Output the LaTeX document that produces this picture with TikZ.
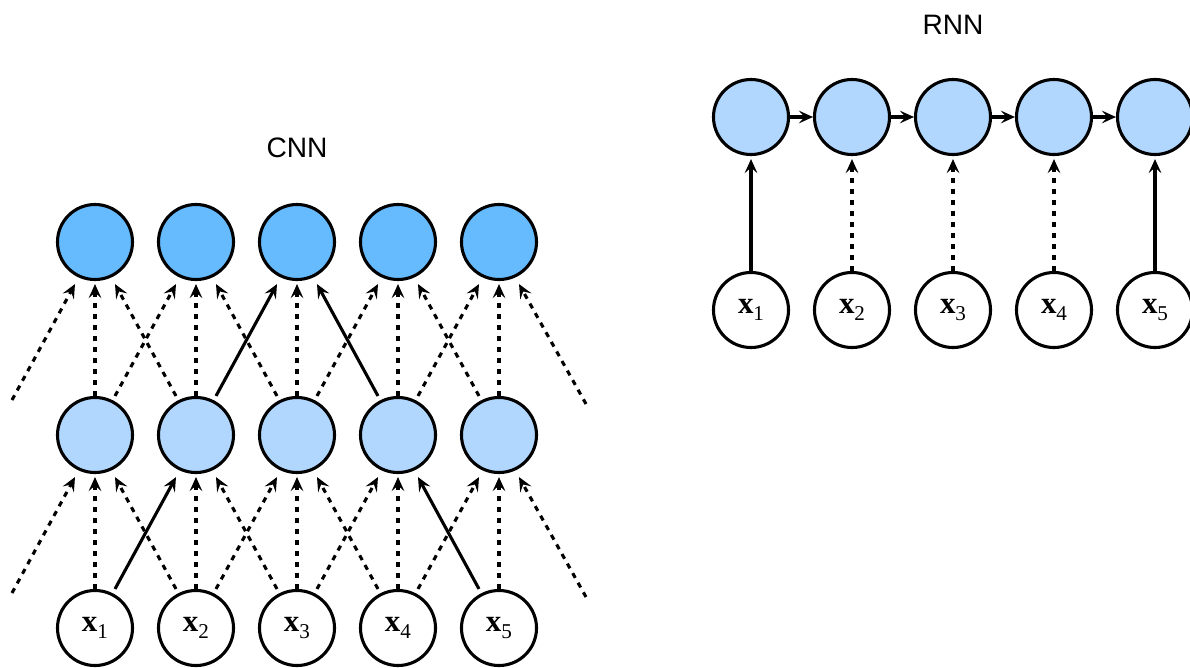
\documentclass[tikz,border=0pt]{standalone}
\usepackage{fontspec}
\setmainfont{Liberation Serif}
\newfontfamily\titlefont{Liberation Sans}
\usetikzlibrary{arrows.meta,calc}
\definecolor{convblue}{HTML}{66BBFF}
\definecolor{stateblue}{HTML}{B1D7FF}
% input token x_i
\newcommand{\xin}[1]{\textbf{x}\raisebox{-0.5ex}{\fontsize{15pt}{15pt}\selectfont #1}}
\begin{document}
\begin{tikzpicture}[x=0.025cm,y=-0.025cm,
                        unit/.style={circle,draw,line width=2.2pt,minimum size=1.875cm,inner sep=0pt,font=\fontsize{22pt}{22pt}\selectfont},
                        conv/.style={unit,fill=convblue},
                        state/.style={unit,fill=stateblue},
                        input/.style={unit,fill=white},
                        link/.style={line width=2.2pt,-{Stealth[length=10pt,width=9pt,inset=4pt]}},
                        weak/.style={link,dash pattern=on 3.8pt off 4pt},
                        title/.style={font=\titlefont\fontsize{20pt}{20pt}\selectfont}
                        ]
                        \useasboundingbox (0,0) rectangle (1190,667);
                        %CNN: drei Schichten
                        \node [title] at (297,148) {CNN};
                        \node [conv] (t1) at (95,242) {};
                        \node [conv] (t2) at (196,242) {};
                        \node [conv] (t3) at (297,242) {};
                        \node [conv] (t4) at (398,242) {};
                        \node [conv] (t5) at (499,242) {};
                        \node [state] (m1) at (95,435) {};
                        \node [state] (m2) at (196,435) {};
                        \node [state] (m3) at (297,435) {};
                        \node [state] (m4) at (398,435) {};
                        \node [state] (m5) at (499,435) {};
                        \node [input] (b1) at (95,628) {\xin{1}};
                        \node [input] (b2) at (196,628) {\xin{2}};
                        \node [input] (b3) at (297,628) {\xin{3}};
                        \node [input] (b4) at (398,628) {\xin{4}};
                        \node [input] (b5) at (499,628) {\xin{5}};
                        %Randknoten ausserhalb des Bildes
                        \coordinate (m0) at (-8,400);
                        \coordinate (m6) at (606,404);
                        \coordinate (b0) at (-8,593);
                        \coordinate (b6) at (606,597);
                        %senkrechte Verbindungen
                        \foreach \i in {1,...,5} {
                            \draw [weak] (m\i.north) -- ($(t\i.south)+(0,3)$);
                            \draw [weak] (b\i.north) -- ($(m\i.south)+(0,3)$);
                        }
                        %schraege Verbindungen
                        \foreach \j/\i/\d in {1/2/20,2/1/-20,3/2/-20,3/4/20,4/5/20,5/4/-20} {
                            \draw [weak] ($(m\j.north)+(\d,0)$) -- ($(t\i.south)+(0,3)-(\d,0)$);
                        }
                        \foreach \j/\i/\d in {2/1/-20,2/3/20,3/2/-20,3/4/20,4/3/-20,4/5/20} {
                            \draw [weak] ($(b\j.north)+(\d,0)$) -- ($(m\i.south)+(0,3)-(\d,0)$);
                        }
                        \draw [weak] ($(m0)+(20,0)$) -- ($(t1.south)+(-20,3)$);
                        \draw [weak] ($(m6)+(-20,0)$) -- ($(t5.south)+(20,3)$);
                        \draw [weak] ($(b0)+(20,0)$) -- ($(m1.south)+(-20,3)$);
                        \draw [weak] ($(b6)+(-20,0)$) -- ($(m5.south)+(20,3)$);
                        %Pfad zu x_1 ... x_5
                        \draw [link] ($(m2.north)+(20,0)$) -- ($(t3.south)+(-20,3)$);
                        \draw [link] ($(m4.north)+(-20,0)$) -- ($(t3.south)+(20,3)$);
                        \draw [link] ($(b1.north)+(20,0)$) -- ($(m2.south)+(-20,3)$);
                        \draw [link] ($(b5.north)+(-20,0)$) -- ($(m4.south)+(20,3)$);
                        %RNN
                        \node [title] at (953,25) {RNN};
                        \node [state] (r1) at (751,117) {};
                        \node [state] (r2) at (852,117) {};
                        \node [state] (r3) at (953,117) {};
                        \node [state] (r4) at (1054,117) {};
                        \node [state] (r5) at (1155,117) {};
                        \node [input] (rx1) at (751,310) {\xin{1}};
                        \node [input] (rx2) at (852,310) {\xin{2}};
                        \node [input] (rx3) at (953,310) {\xin{3}};
                        \node [input] (rx4) at (1054,310) {\xin{4}};
                        \node [input] (rx5) at (1155,310) {\xin{5}};
                        \draw [link] (r1) -- (r2);
                        \draw [link] (r2) -- (r3);
                        \draw [link] (r3) -- (r4);
                        \draw [link] (r4) -- (r5);
                        \draw [link] (rx1) -- ($(r1.south)+(0,3)$);
                        \draw [weak] (rx2) -- ($(r2.south)+(0,3)$);
                        \draw [weak] (rx3) -- ($(r3.south)+(0,3)$);
                        \draw [weak] (rx4) -- ($(r4.south)+(0,3)$);
                        \draw [link] (rx5) -- ($(r5.south)+(0,3)$);
                \end{tikzpicture}
\end{document}
